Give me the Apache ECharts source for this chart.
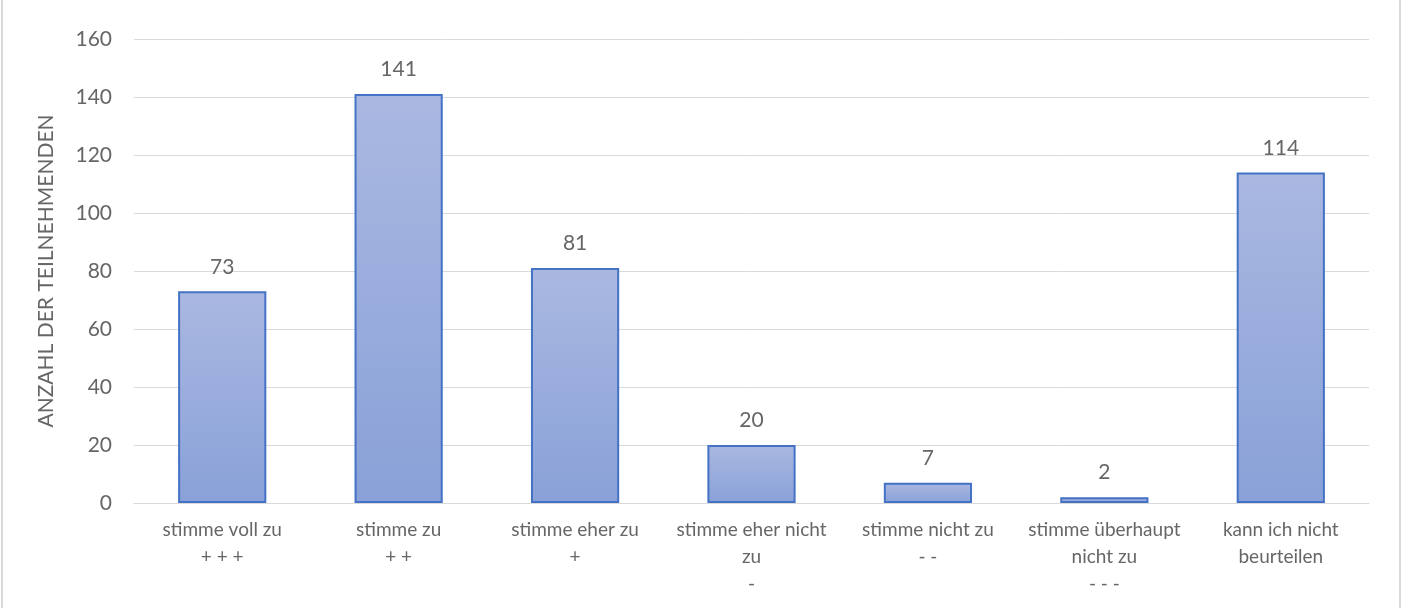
<!DOCTYPE html>
<html>
<head>
<meta charset="utf-8">
<script src="https://cdn.jsdelivr.net/npm/echarts@6/dist/echarts.min.js"></script>
<style>
  html, body { margin: 0; padding: 0; background: #fff; }
  #chart { height: 608px; width: 1400px; margin-left: 1px; box-sizing: border-box; border-left: 2px solid #d9d9d9; border-right: 2px solid #d9d9d9; }
</style>
</head>
<body>
<div id="chart"></div>
<script>
  // Kategorien und Werte
  const categories = [
    'stimme voll zu\n+ + +',
    'stimme zu\n+ +',
    'stimme eher zu\n+',
    'stimme eher nicht\nzu\n-',
    'stimme nicht zu\n- -',
    'stimme überhaupt\nnicht zu\n- - -',
    'kann ich nicht\nbeurteilen'
  ];
  const counts = [73, 141, 81, 20, 7, 2, 114];
  const yTicks = [0, 20, 40, 60, 80, 100, 120, 140, 160];

  let textColor = '#666666';
  let chart = echarts.init(document.getElementById('chart'));
  let option = {
    animation: false,
    textStyle: { fontFamily: 'Lato' },
    grid: { left: 131, right: 30, top: 39, bottom: 105 },
    xAxis: {
      type: 'category',
      data: categories,
      axisLine: { lineStyle: { color: '#d9d9d9', width: 1 } },
      axisTick: { show: false },
      axisLabel: { color: textColor, fontSize: 19, lineHeight: 27, margin: 13, interval: 0 }
    },
    yAxis: {
      type: 'value',
      min: yTicks[0],
      max: yTicks[yTicks.length - 1],
      interval: 20,
      name: 'ANZAHL DER TEILNEHMENDEN',
      nameLocation: 'middle',
      nameGap: 77,
      nameTextStyle: { color: textColor, fontSize: 21 },
      axisLine: { show: false },
      axisTick: { show: false },
      axisLabel: { color: textColor, fontSize: 21, margin: 22 },
      splitLine: { lineStyle: { color: '#d9d9d9', width: 1 } }
    },
    series: [{
      type: 'bar',
      data: counts,
      barWidth: '50%',
      itemStyle: {
        color: {
          type: 'linear', x: 0, y: 0, x2: 0, y2: 1,
          colorStops: [
            { offset: 0, color: '#aab8e1' },
            { offset: 1, color: '#89a1d8' }
          ]
        },
        borderColor: '#4472c4',
        borderWidth: 2
      },
      label: {
        show: true,
        position: 'top',
        distance: 14,
        color: textColor,
        fontSize: 21
      }
    }]
  };
  chart.setOption(option);
</script>
</body>
</html>
